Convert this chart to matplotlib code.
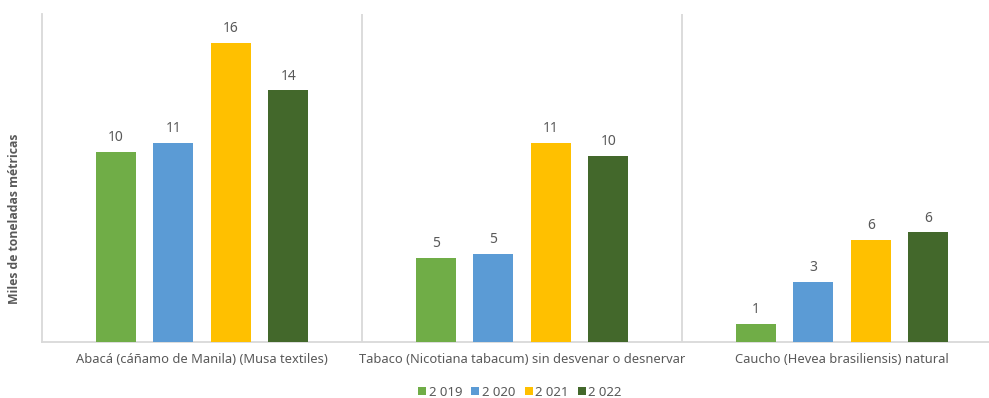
import matplotlib
matplotlib.use("Agg")
import matplotlib.pyplot as plt
from matplotlib.patches import Patch
import numpy as np

plt.rcParams['font.family'] = ['Noto Sans', 'DejaVu Sans']

categories = [
    "Abacá (cáñamo de Manila) (Musa textiles)",
    "Tabaco (Nicotiana tabacum) sin desvenar o desnervar",
    "Caucho (Hevea brasiliensis) natural",
]
years = ["2 019", "2 020", "2 021", "2 022"]
v2019 = [10.4, 4.6, 0.97]
v2020 = [10.9, 4.8, 3.3]
v2021 = [16.4, 10.9, 5.6]
v2022 = [13.8, 10.2, 6.0]
series = [v2019, v2020, v2021, v2022]
colors = ["#70AD47", "#5B9BD5", "#FFC000", "#43682B"]

W, H = 989, 398
fig = plt.figure(figsize=(W / 100, H / 100), dpi=100)
ax = fig.add_axes([42 / W, (H - 341.7) / H, 960 / W, 327.7 / H])

text_col = "#595959"
grid_col = "#D9D9D9"

pitch = 0.18
width = 0.125
centers = np.arange(len(categories)) + 0.5
for k, (vals, col) in enumerate(zip(series, colors)):
    x = centers + (k - 1.5) * pitch
    bars = ax.bar(x, vals, width=width, color=col, zorder=3)
    for b, v in zip(bars, vals):
        ax.annotate(f"{v:.0f}", (b.get_x() + b.get_width() / 2, v),
                    xytext=(0, 5), textcoords="offset points",
                    ha="center", va="bottom", fontsize=10, color=text_col)

ax.set_xlim(0, 3)
ax.set_ylim(0, 18)
for xs in (1, 2):
    ax.axvline(xs, color=grid_col, lw=1.3, zorder=1)

for s in ("top", "right"):
    ax.spines[s].set_visible(False)
for s in ("left", "bottom"):
    ax.spines[s].set_color(grid_col)
    ax.spines[s].set_linewidth(1.3)

ax.set_yticks([])
ax.set_xticks(centers)
ax.set_xticklabels(categories, fontsize=9.3, color=text_col)
ax.tick_params(axis="x", length=0, pad=8)

fig.text(15 / W, 1 - 219 / H, "Miles de toneladas métricas", rotation=90,
         ha="center", va="center", fontsize=8.8, fontweight="bold",
         family=["Open Sans", "DejaVu Sans"], color=text_col)

handles = [Patch(facecolor=c, edgecolor="none") for c in colors]
fig.legend(handles, years, loc="center", bbox_to_anchor=(520 / W, 1 - 392 / H),
           ncol=4, frameon=False, fontsize=9.5, labelcolor=text_col,
           handlelength=0.6, handleheight=0.6, handletextpad=0.2,
           columnspacing=0.7, borderaxespad=0, borderpad=0)

fig.savefig("out.png", dpi=100)
